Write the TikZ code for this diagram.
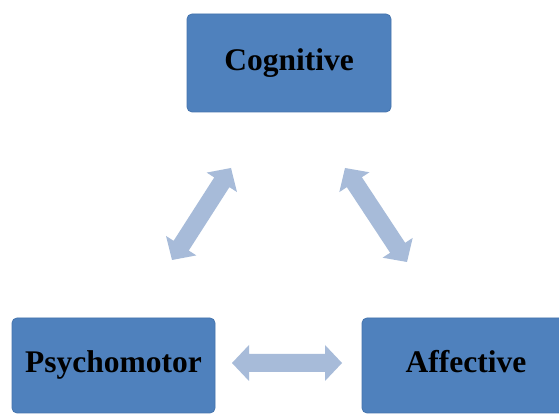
\documentclass[tikz,border=0pt]{standalone}
\usepackage{fontspec}
\setmainfont{Liberation Serif}
\usetikzlibrary{calc}
\definecolor{boxblue}{HTML}{4F81BD}
\definecolor{boxedge}{HTML}{4574AE}
\definecolor{arrowblue}{HTML}{A7BBD9}
\newcommand\dblblockarrow[2]{%
  \fill[arrowblue] let \p1=(#1), \p2=(#2),
    \n1={atan2(\y2-\y1,\x2-\x1)} in
    (\p1)
    -- ($(\p1)+(\n1:17pt)+(\n1+90:18pt)$)
    -- ($(\p1)+(\n1:17pt)+(\n1+90:9pt)$)
    -- ($(\p2)+(\n1:-17pt)+(\n1+90:9pt)$)
    -- ($(\p2)+(\n1:-17pt)+(\n1+90:18pt)$)
    -- (\p2)
    -- ($(\p2)+(\n1:-17pt)+(\n1-90:18pt)$)
    -- ($(\p2)+(\n1:-17pt)+(\n1-90:9pt)$)
    -- ($(\p1)+(\n1:17pt)+(\n1-90:9pt)$)
    -- ($(\p1)+(\n1:17pt)+(\n1-90:18pt)$)
    -- cycle;}
\begin{document}
\begin{tikzpicture}[x=1pt,y=1pt,
  bloombox/.style={rectangle, rounded corners=5pt, fill=boxblue, draw=boxedge,
    line width=0.8pt, inner sep=0pt, text=black,
    font=\bfseries\fontsize{31.5}{36}\selectfont,
    text height=22pt, text depth=7pt}]
\useasboundingbox (0,0) rectangle (559,414);
\clip (0,0) rectangle (559,414);
\fill[white] (0,0) rectangle (559,414);
\node[bloombox, minimum width=204pt, minimum height=98pt] (cog) at (289,351) {Cognitive};
\node[bloombox, minimum width=203pt, minimum height=95pt] (psy) at (113.5,48.5) {Psychomotor};
\node[bloombox, minimum width=208pt, minimum height=95pt] (aff) at (466,48.5) {Affective};
\coordinate (l1) at (172,154);
\coordinate (l2) at (231,246);
\coordinate (r1) at (345,246);
\coordinate (r2) at (407,152);
\coordinate (h1) at (232,51);
\coordinate (h2) at (342,51);
\dblblockarrow{l1}{l2}
\dblblockarrow{r1}{r2}
\dblblockarrow{h1}{h2}
\end{tikzpicture}
\end{document}
